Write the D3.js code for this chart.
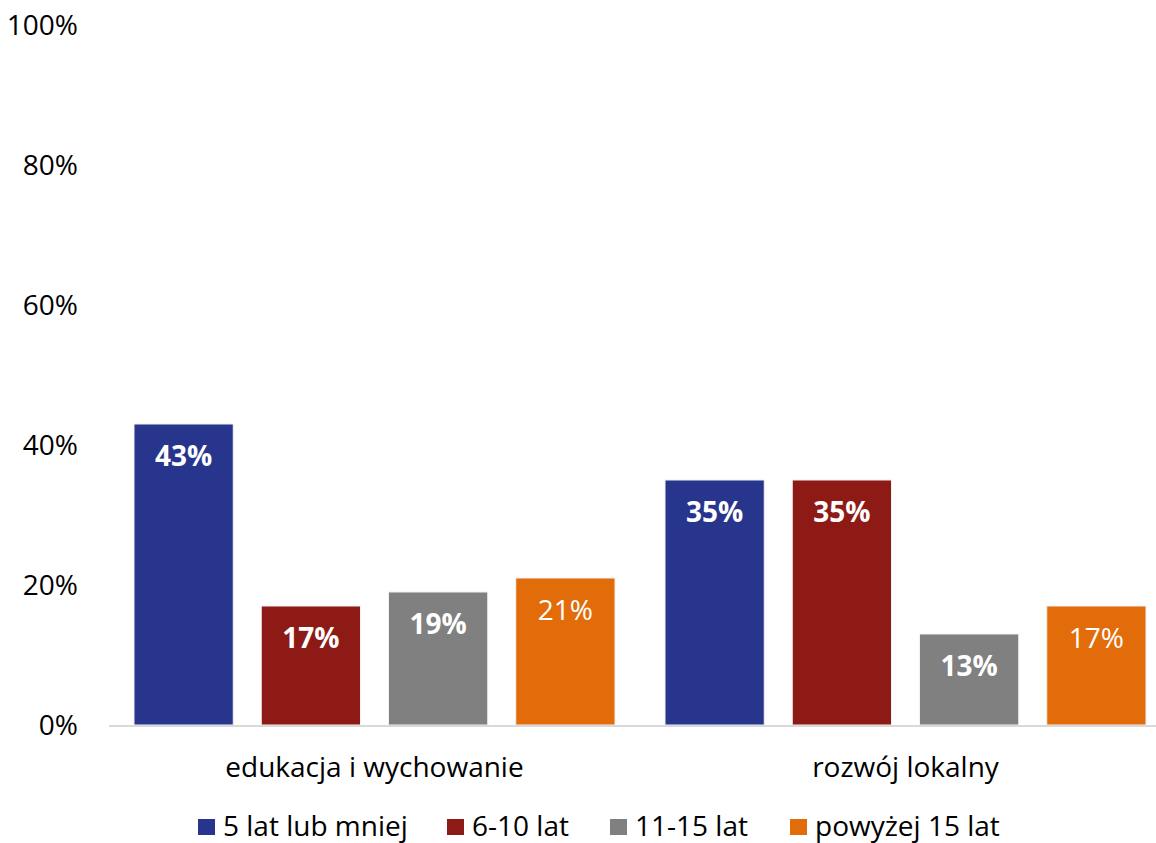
<!DOCTYPE html>
<html><head><meta charset="utf-8">
<script src="https://cdn.jsdelivr.net/npm/d3@7"></script>
<style>
html,body{margin:0;padding:0;background:#fff;}
svg text{font-family:"Open Sans",sans-serif;}
</style></head>
<body>
<svg id="chart" width="1156" height="843"></svg>
<script>
const categories = ["edukacja i wychowanie", "rozwój lokalny"];
const seriesNames = ["5 lat lub mniej", "6-10 lat", "11-15 lat", "powyżej 15 lat"];
const values5 = [43, 35];
const values6_10 = [17, 35];
const values11_15 = [19, 13];
const values15plus = [21, 17];
const yTicks = [0, 20, 40, 60, 80, 100];

const seriesValues = [values5, values6_10, values11_15, values15plus];
const colors = ["#28358C", "#8E1A16", "#808080", "#E36C0A"];
const boldLabel = [true, true, true, false];
const FS = 28;

const svg = d3.select("#chart");
const x0 = d3.scaleBand().domain(categories).range([109, 1171]).paddingInner(0).paddingOuter(0);
const x1 = d3.scaleBand().domain(seriesNames).range([25, x0.bandwidth() - 25]).paddingInner(0.22).paddingOuter(0);
const y = d3.scaleLinear().domain([0, 100]).range([725, 25]);

// y tick labels
svg.append("g").selectAll("text").data(yTicks).join("text")
  .attr("x", 78).attr("y", d => y(d)).attr("dy", "0.36em")
  .attr("text-anchor", "end").attr("font-size", FS).attr("fill", "#000")
  .text(d => d + "%");

// bars
const groups = svg.append("g").selectAll("g").data(categories).join("g")
  .attr("transform", c => `translate(${x0(c)},0)`);
groups.each(function(c, ci) {
  const g = d3.select(this);
  seriesNames.forEach((s, si) => {
    const v = seriesValues[si][ci];
    g.append("rect")
      .attr("x", x1(s)).attr("width", x1.bandwidth())
      .attr("y", y(v)).attr("height", y(0) - y(v))
      .attr("fill", colors[si]).attr("stroke", "#f2f2f2").attr("stroke-width", 1);
    g.append("text")
      .attr("x", x1(s) + x1.bandwidth() / 2).attr("y", y(v) + 32).attr("dy", "0.36em")
      .attr("text-anchor", "middle").attr("font-size", FS)
      .attr("font-weight", boldLabel[si] ? "bold" : "normal")
      .attr("fill", "#fff").text(v + "%");
  });
});

// baseline
svg.append("line").attr("x1", 109).attr("x2", 1156).attr("y1", y(0) + 1).attr("y2", y(0) + 1)
  .attr("stroke", "#d9d9d9").attr("stroke-width", 2);

// category labels
svg.append("g").selectAll("text").data(categories).join("text")
  .attr("x", c => x0(c) + 25 + (x0.bandwidth() - 50) / 2).attr("y", 767).attr("dy", "0.36em")
  .attr("text-anchor", "middle").attr("font-size", FS).attr("fill", "#000")
  .text(d => d);

// legend
const legendX = [198, 447, 610, 790];
const lg = svg.append("g").selectAll("g").data(seriesNames).join("g")
  .attr("transform", (d, i) => `translate(${legendX[i]},827)`);
lg.append("rect").attr("x", 0).attr("y", -8).attr("width", 17).attr("height", 16)
  .attr("fill", (d, i) => colors[i]);
lg.append("text").attr("x", 25).attr("y", -1).attr("dy", "0.36em")
  .attr("font-size", FS).attr("fill", "#000").text(d => d);
</script>
</body></html>
